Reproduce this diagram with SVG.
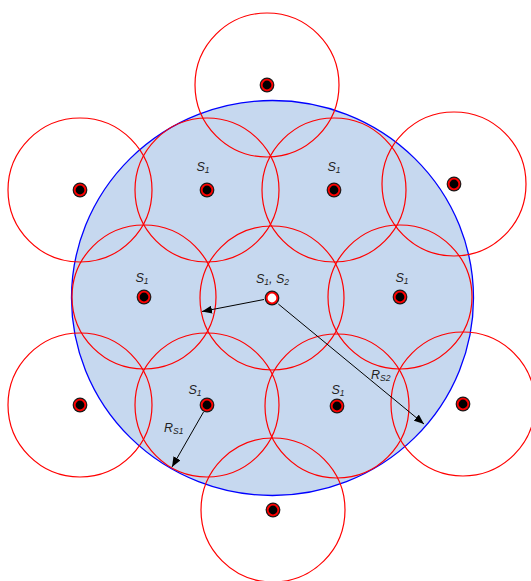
<svg xmlns="http://www.w3.org/2000/svg" width="531" height="581" viewBox="0 0 531 581">
<style>
.cell{fill:none;stroke:#ff0000;stroke-width:1.2}
.lbl{font-family:"Liberation Sans",Arial,sans-serif;font-style:italic;font-size:12.5px;fill:#222}
.sub{font-size:8.5px}
.ring{fill:#000;stroke:#ff0000;stroke-width:1.8}
.edge{fill:#1a1a1a}
.arr{stroke:#000;stroke-width:1;fill:none;marker-end:url(#ah)}
</style>
<defs>
<marker id="ah" viewBox="0 0 10 8" refX="10" refY="4" markerWidth="10" markerHeight="8" markerUnits="userSpaceOnUse" orient="auto">
<path d="M0,0 L10,4 L0,8 Z" fill="#000"/>
</marker>
</defs>
<rect width="531" height="581" fill="#fff"/>
<g id="coverage">
<ellipse cx="272.5" cy="298" rx="201" ry="197.5" fill="#c6d8ef" stroke="#0000ff" stroke-width="1.3"/>
</g>
<g id="cells">
<circle class="cell" cx="267" cy="85" r="72"/>
<circle class="cell" cx="80" cy="190" r="72"/>
<circle class="cell" cx="207" cy="190" r="72"/>
<circle class="cell" cx="334" cy="190" r="72"/>
<circle class="cell" cx="454" cy="184" r="72"/>
<circle class="cell" cx="144" cy="297" r="72"/>
<circle class="cell" cx="272" cy="298" r="72"/>
<circle class="cell" cx="400" cy="297" r="72"/>
<circle class="cell" cx="80" cy="405" r="72"/>
<circle class="cell" cx="207" cy="405" r="72"/>
<circle class="cell" cx="337" cy="406" r="72"/>
<circle class="cell" cx="463" cy="404" r="72"/>
<circle class="cell" cx="273" cy="510" r="72"/>
</g>
<g id="connectors">
<line class="arr" x1="264" y1="299.5" x2="202" y2="311.5"/>
<line class="arr" x1="278.3" y1="304" x2="424" y2="424"/>
<line class="arr" x1="203.5" y1="412" x2="172" y2="467"/>
</g>
<g id="n1"><circle class="edge" cx="267" cy="85" r="7.4"/><circle class="ring" cx="267" cy="85" r="5.3"/></g>
<g id="n2"><circle class="edge" cx="80" cy="190" r="7.4"/><circle class="ring" cx="80" cy="190" r="5.3"/></g>
<g id="n3"><circle class="edge" cx="207" cy="190" r="7.4"/><circle class="ring" cx="207" cy="190" r="5.3"/><text class="lbl" x="203" y="171" text-anchor="middle">S<tspan class="sub" dy="2">1</tspan></text></g>
<g id="n4"><circle class="edge" cx="334" cy="190" r="7.4"/><circle class="ring" cx="334" cy="190" r="5.3"/><text class="lbl" x="334" y="171" text-anchor="middle">S<tspan class="sub" dy="2">1</tspan></text></g>
<g id="n5"><circle class="edge" cx="454" cy="184" r="7.4"/><circle class="ring" cx="454" cy="184" r="5.3"/></g>
<g id="n6"><circle class="edge" cx="144" cy="297" r="7.4"/><circle class="ring" cx="144" cy="297" r="5.3"/><text class="lbl" x="142" y="282" text-anchor="middle">S<tspan class="sub" dy="2">1</tspan></text></g>
<g id="n7"><circle class="edge" cx="272" cy="298" r="7.4"/><circle class="ring" cx="272" cy="298" r="5.3" style="fill:#fff"/><text class="lbl" x="272.5" y="282.5" text-anchor="middle">S<tspan class="sub" dy="2">1</tspan><tspan dy="-2">, S</tspan><tspan class="sub" dy="2">2</tspan></text></g>
<g id="n8"><circle class="edge" cx="400" cy="297" r="7.4"/><circle class="ring" cx="400" cy="297" r="5.3"/><text class="lbl" x="402" y="282" text-anchor="middle">S<tspan class="sub" dy="2">1</tspan></text></g>
<g id="n9"><circle class="edge" cx="80" cy="405" r="7.4"/><circle class="ring" cx="80" cy="405" r="5.3"/></g>
<g id="n10"><circle class="edge" cx="207" cy="405" r="7.4"/><circle class="ring" cx="207" cy="405" r="5.3"/><text class="lbl" x="195" y="394" text-anchor="middle">S<tspan class="sub" dy="2">1</tspan></text></g>
<g id="n11"><circle class="edge" cx="337" cy="406" r="7.4"/><circle class="ring" cx="337" cy="406" r="5.3"/><text class="lbl" x="338" y="394" text-anchor="middle">S<tspan class="sub" dy="2">1</tspan></text></g>
<g id="n12"><circle class="edge" cx="463" cy="404" r="7.4"/><circle class="ring" cx="463" cy="404" r="5.3"/></g>
<g id="n13"><circle class="edge" cx="273" cy="510" r="7.4"/><circle class="ring" cx="273" cy="510" r="5.3"/></g>
<g id="labels">
<text class="lbl" x="164" y="432">R<tspan class="sub" dy="2">S1</tspan></text>
<text class="lbl" x="371" y="379">R<tspan class="sub" dy="2">S2</tspan></text>
</g>
</svg>
